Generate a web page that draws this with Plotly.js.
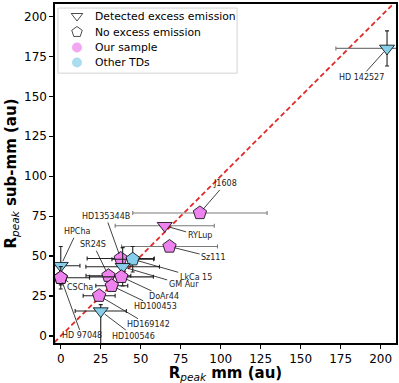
<!DOCTYPE html>
<html>
<head>
<meta charset="utf-8">
<script src="https://cdn.plot.ly/plotly-3.0.1.min.js"></script>
<style>html,body{margin:0;padding:0;background:#fff;}#chart{width:399px;height:383px;}</style>
</head>
<body>
<div id="chart"></div>
<script>
// ---- data ----
var names   = ["HD 97048","HD 142527","J1608","RYLup","Sz111","HD135344B","LkCa 15","GM Aur","HPCha","CSCha","SR24S","DoAr44","HD100453","HD169142","HD100546"];
var rMm     = [0, 204, 87, 65, 68, 37.5, 45, 38.7, 0, 0, 29.8, 37.9, 31.9, 24, 25];
var rSubmm  = [36.4, 180, 77, 69, 56, 48.5, 48, 43.3, 44, 36.4, 37.7, 37, 31.4, 25.2, 15.6];
var errMm   = [0, 32, 42, 31, 30, 21, 13, 23, 12, 18, 14, 20, 10, 10, 16];
var errSubUp= [0, 11, 0, 0, 0, 0, 8, 12, 12, 7, 0, 0, 0, 0, 4];
var errSubDn= [0, 11, 0, 0, 0, 0, 8, 12, 12, 7, 0, 0, 0, 0, 22];
var excess  = [false, true, false, true, false, false, false, true, true, false, false, false, false, false, true];
var sample  = ["Other TDs","Other TDs","Our sample","Our sample","Our sample","Our sample","Other TDs","Other TDs","Other TDs","Our sample","Our sample","Our sample","Our sample","Our sample","Other TDs"];
// label offsets (pixels, text centre relative to point)
var labelDx = [21, -26, 25, 35, 44, -15, 63, 61, 16, 19, -15, 43, 44, 49, 33];
var labelDy = [58, 29, -29, 10, 11, -42, 18, 18, -34, 10, -31, 20, 21, 29, 25];
var legendNames = ["Detected excess emission","No excess emission","Our sample","Other TDs"];
var axisLo = -4, axisHi = 209;

var colorOf = {"Our sample":"violet","Other TDs":"skyblue"};
var traces = [];
traces.push({x:[axisLo, axisHi], y:[axisLo, axisHi], mode:"lines", showlegend:false, hoverinfo:"skip",
  line:{color:"#e02a2a", width:1.8, dash:"5px,3px"}});

for (var i=0;i<names.length;i++){
  traces.push({
    x:[rMm[i]], y:[rSubmm[i]], mode:"markers", showlegend:false, name:names[i],
    marker:{symbol: excess[i] ? "triangle-down" : "pentagon", size: excess[i]?13:14,
      color: colorOf[sample[i]], line:{color:"#000", width:0.8}},
    error_x:{type:"data", array:[errMm[i]], visible: errMm[i]>0, color: errMm[i]>25 ? "#7a7a7a" : "#222", thickness:1.1, width:2},
    error_y:{type:"data", symmetric:false, array:[errSubUp[i]], arrayminus:[errSubDn[i]], visible: errSubUp[i]+errSubDn[i]>0, color:"#222", thickness:1.1, width:2}
  });
}

// ---- custom legend (overlay axes 0..1 over the plot area) ----
var legY = [0.9646, 0.9174, 0.8717, 0.8274];
var legSym = ["triangle-down-open","pentagon-open","circle","circle"];
var legCol = ["#000","#000","violet","skyblue"];
traces.push({x:[0.0645,0.0645,0.0645,0.0645], y:legY, xaxis:"x2", yaxis:"y2", mode:"markers", showlegend:false, hoverinfo:"skip",
  marker:{symbol:legSym, size:[10,11,10,10], color:legCol, line:{color:"#000", width:[1,1,0,0]}}});

var annotations = names.map(function(n,i){
  return {x:rMm[i], y:rSubmm[i], xref:"x", yref:"y", text:n, showarrow:true, arrowhead:0,
    arrowwidth:0.8, arrowcolor:"#111", ax:labelDx[i], ay:labelDy[i], standoff:5,
    font:{family:"DejaVu Sans", size:8, color:"#222"}};
});
legendNames.forEach(function(n,k){
  annotations.push({x:0.1114, y:legY[k], xref:"x2", yref:"y2", text:n, showarrow:false, xanchor:"left", yanchor:"middle",
    font:{family:"DejaVu Sans", size:10.8, color:"#000"}});
});

var tickvals = [0,25,50,75,100,125,150,175,200];
var axisCommon = {showgrid:false, zeroline:false, showline:true, mirror:true, linecolor:"#000", linewidth:1.6,
  ticks:"outside", ticklen:4, tickwidth:1.2, tickcolor:"#000", tickvals:tickvals,
  tickfont:{family:"DejaVu Sans", size:12, color:"#000"}};

var layout = {
  width:399, height:383, margin:{l:55, r:3, t:4, b:40}, paper_bgcolor:"#fff", plot_bgcolor:"#fff",
  font:{family:"DejaVu Sans", color:"#000"},
  showlegend:false,
  xaxis: Object.assign({}, axisCommon, {range:[-3.6, 209.6],
    title:{text:"<b>R</b><sub><i>peak</i></sub><b> mm (au)</b>", font:{size:15, family:"DejaVu Sans"}, standoff:3}}),
  yaxis: Object.assign({}, axisCommon, {range:[-4.4, 207.8],
    title:{text:"<b>R</b><sub><i>peak</i></sub><b> sub-mm (au)</b>", font:{size:15, family:"DejaVu Sans"}, standoff:4}}),
  xaxis2:{overlaying:"x", range:[0,1], visible:false, fixedrange:true},
  yaxis2:{overlaying:"y", range:[0,1], visible:false, fixedrange:true},
  shapes:[{type:"rect", xref:"x2", yref:"y2", x0:0.0088, x1:0.534, y0:0.796, y1:0.988,
    line:{color:"#d4d4d4", width:1}, fillcolor:"#fff", layer:"below"}],
  annotations:annotations
};
Plotly.newPlot("chart", traces, layout, {staticPlot:true, displayModeBar:false});
</script>
</body>
</html>
